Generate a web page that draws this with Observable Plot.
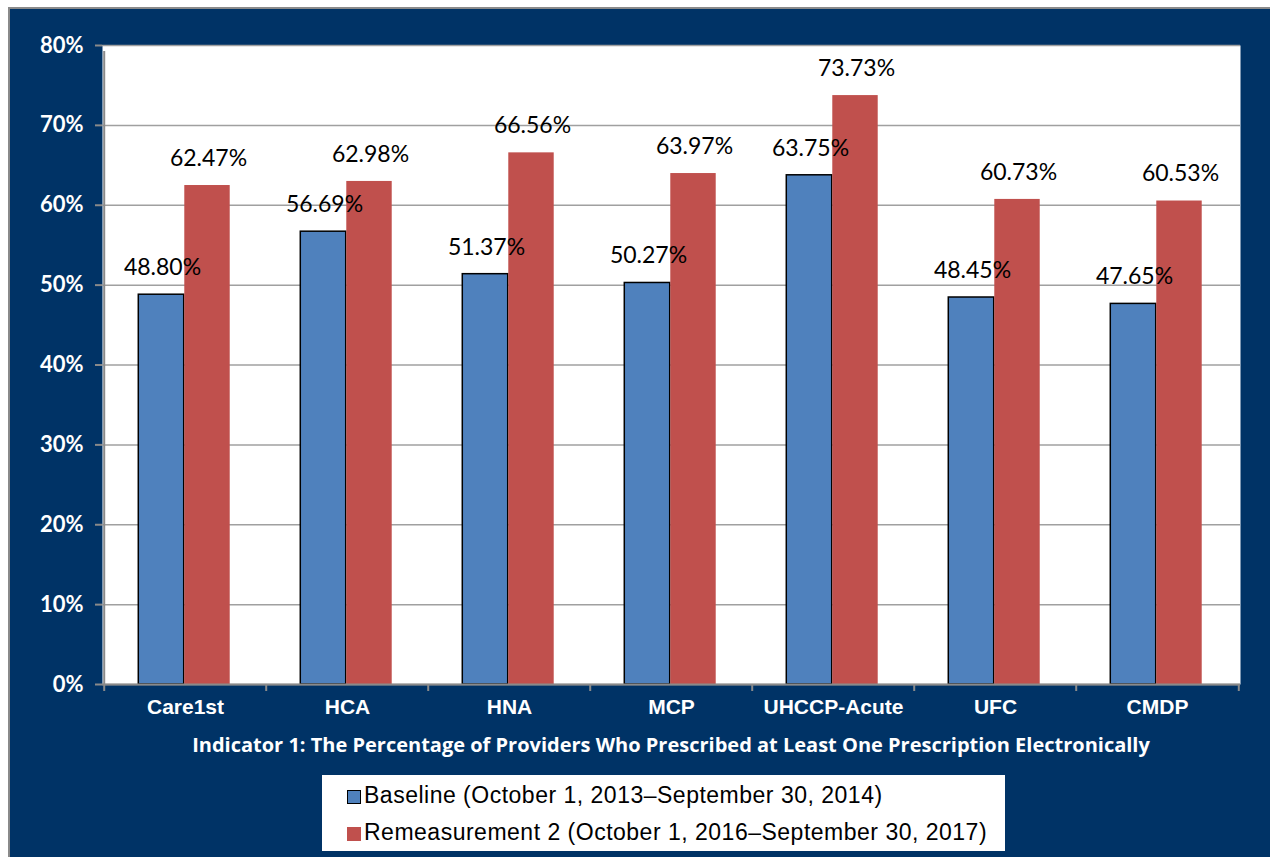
<!DOCTYPE html>
<html>
<head>
<meta charset="utf-8">
<script src="https://cdn.jsdelivr.net/npm/d3@7"></script>
<script src="https://cdn.jsdelivr.net/npm/@observablehq/plot@0.6"></script>
<style>
  html, body { margin: 0; padding: 0; background: #ffffff; width: 1270px; height: 857px; overflow: hidden; }
  #panel { position: absolute; left: 8px; top: 7px; width: 1300px; height: 900px; background: #003366; border-left: 2px solid #8a8a8a; border-top: 2px solid #8a8a8a; }
  #chart { position: absolute; left: 0; top: 0; }
  #title { position: absolute; left: 0; width: 1342px; top: 731px; text-align: center; color: #ffffff; font: bold 20px "Open Sans", Lato, sans-serif; white-space: nowrap; }
  #legend { position: absolute; left: 322px; top: 775px; width: 683px; height: 76px; background: #ffffff; font: 23px "Liberation Sans", Arial, sans-serif; letter-spacing: 0.5px; color: #000; }
  .row { position: absolute; left: 25px; height: 26px; line-height: 26px; white-space: nowrap; }
  .sw { display: inline-block; width: 14px; height: 14px; margin-right: 3px; vertical-align: -1px; box-sizing: border-box; }
</style>
</head>
<body>
<div id="panel"></div>
<div id="chart"></div>
<div id="title"></div>
<div id="legend"></div>
<script>
const categories = ["Care1st", "HCA", "HNA", "MCP", "UHCCP-Acute", "UFC", "CMDP"];
const seriesNames = ["Baseline (October 1, 2013\u2013September 30, 2014)", "Remeasurement 2 (October 1, 2016\u2013September 30, 2017)"];
const baselineValues = [48.80, 56.69, 51.37, 50.27, 63.75, 48.45, 47.65];
const remeasurementValues = [62.47, 62.98, 66.56, 63.97, 73.73, 60.73, 60.53];
const yTicks = [0, 10, 20, 30, 40, 50, 60, 70, 80];
const titleText = "Indicator 1: The Percentage of Providers Who Prescribed at Least One Prescription Electronically";

const colors = ["#4F81BD", "#C0504D"];
const W = 1270, H = 720;
const mL = 102, mR = 30, mT = 45, mB = 36;
const bw = (W - mL - mR) / categories.length;
const barW = 46;
const half = bw / 2;

const base = categories.map((c, i) => ({cat: c, v: baselineValues[i]}));
const rem = categories.map((c, i) => ({cat: c, v: remeasurementValues[i]}));
const fmt = v => v.toFixed(2) + "%";

const plot = Plot.plot({
  width: W, height: H,
  marginLeft: mL, marginRight: mR, marginTop: mT, marginBottom: mB,
  style: {background: "transparent", overflow: "visible"},
  x: {domain: categories, padding: 0, axis: null},
  y: {domain: [0, 80], axis: null},
  marks: [
    Plot.frame({fill: "white", stroke: "none"}),
    Plot.gridY(yTicks, {stroke: "#a0a0a0", strokeOpacity: 1, strokeWidth: 1.5}),
    Plot.barY(base, {x: "cat", y: "v", fill: colors[0], stroke: "#000", strokeWidth: 1.5, insetLeft: half - barW - 1, insetRight: half + 1}),
    Plot.barY(rem, {x: "cat", y: "v", fill: colors[1], insetLeft: half - 1, insetRight: half - barW + 1}),
    Plot.text(base, {x: "cat", y: "v", text: d => fmt(d.v), dx: -barW / 2, dy: -27, fill: "#000", fontSize: 23, fontFamily: "Lato, 'Open Sans', sans-serif"}),
    Plot.text(rem, {x: "cat", y: "v", text: d => fmt(d.v), dx: barW / 2, dy: -27, fill: "#000", fontSize: 23, fontFamily: "Lato, 'Open Sans', sans-serif"}),
    Plot.ruleY([0], {stroke: "#8a8a8a", strokeWidth: 2}),
    Plot.ruleX([categories[0]], {x: d => d, dx: -half, y1: 0, y2: 80, insetBottom: -6, stroke: "#8a8a8a", strokeWidth: 2}),
    Plot.ruleX(categories, {x: d => d, dx: -half, y1: 0, y2: 0, insetBottom: -7, stroke: "#8a8a8a", strokeWidth: 2}),
    Plot.ruleX([categories[categories.length - 1]], {x: d => d, dx: half, y1: 0, y2: 0, insetBottom: -7, stroke: "#8a8a8a", strokeWidth: 2}),
    Plot.axisY(yTicks, {tickSize: 7, tickPadding: 12, stroke: "#8a8a8a", strokeWidth: 2, tickFormat: d => d + "%", fill: "#ffffff", fontSize: 22, fontWeight: "bold", fontFamily: "Lato, 'Open Sans', sans-serif", label: null}),
    Plot.axisX(categories, {tickSize: 0, tickPadding: 15, fill: "#ffffff", fontSize: 21, fontWeight: "bold", fontFamily: "'Liberation Sans', Arial, sans-serif", label: null})
  ]
});
document.getElementById("chart").appendChild(plot);

document.getElementById("title").textContent = titleText;

const legend = document.getElementById("legend");
seriesNames.forEach((name, i) => {
  const row = document.createElement("div");
  row.className = "row";
  row.style.top = (7 + i * 37) + "px";
  const sw = document.createElement("span");
  sw.className = "sw";
  sw.style.background = colors[i];
  if (i === 0) sw.style.border = "1.5px solid #000";
  row.appendChild(sw);
  row.appendChild(document.createTextNode(name));
  legend.appendChild(row);
});
</script>
</body>
</html>
